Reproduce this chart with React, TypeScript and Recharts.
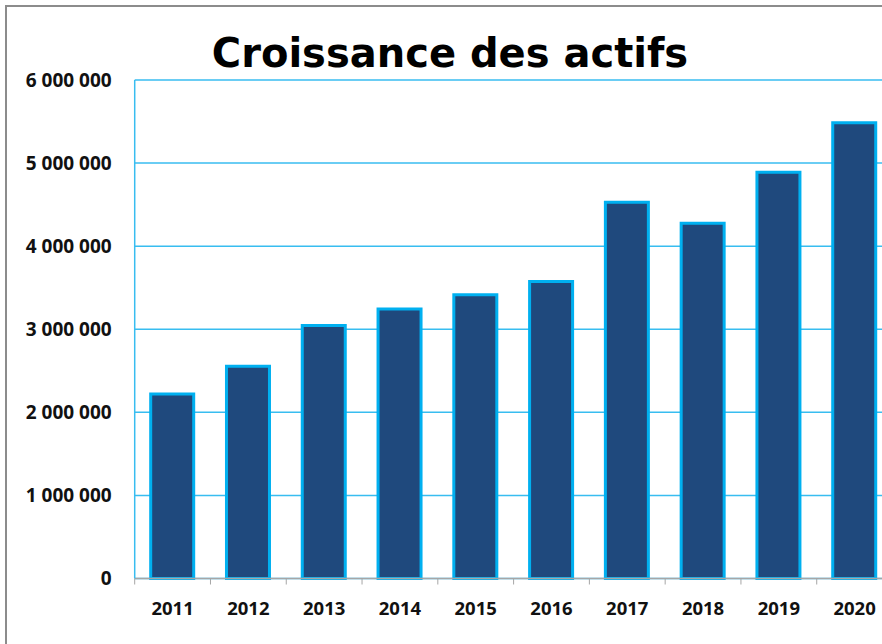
import React from 'react';
import { BarChart, Bar, XAxis, YAxis, CartesianGrid } from 'recharts';

const years = ['2011', '2012', '2013', '2014', '2015', '2016', '2017', '2018', '2019', '2020'];
const actifs = [2220000, 2555000, 3045000, 3245000, 3415000, 3575000, 4530000, 4275000, 4890000, 5485000];
const yTicks = [0, 1000000, 2000000, 3000000, 4000000, 5000000, 6000000];

const data = years.map((annee, i) => ({ annee, actifs: actifs[i] }));

const TITLE_FONT = '"DejaVu Sans", Verdana, sans-serif';
const TICK_FONT = '"Open Sans", "Noto Sans", sans-serif';
const HALF_BAND = 75.8 / 2;

const fmt = (v: number) => String(v).replace(/\B(?=(\d{3})+(?!\d))/g, ' ');

function XTick(props: any) {
  const { x, y, payload } = props;
  const half = payload && payload.offset ? payload.offset : HALF_BAND;
  return (
    <g>
      <line x1={x - half} x2={x - half} y1={y} y2={y + 6} stroke="#a6a6a6" strokeWidth={1} />
      <text x={x} y={y + 36.5} textAnchor="middle" fontFamily={TICK_FONT} fontWeight="bold" fontSize={18.5} fill="#111">
        {payload.value}
      </text>
    </g>
  );
}

export default function App() {
  return (
    <div style={{ position: 'absolute', left: 0, top: 0, width: 882, height: 644, overflow: 'hidden', background: '#fff' }}>
      <div
        style={{
          position: 'absolute',
          left: 5,
          top: 5,
          width: 1000,
          height: 1000,
          border: '2px solid #8c8c8c',
          boxSizing: 'border-box',
        }}
      />
      <div style={{ position: 'absolute', left: 0, top: 0 }}>
        <BarChart width={900} height={640} data={data} margin={{ top: 80, right: 7.5, bottom: 21.5, left: 0 }}>
          <CartesianGrid vertical={false} stroke="#38bdf0" strokeWidth={1.5} />
          <XAxis
            dataKey="annee"
            height={40}
            tickLine={false}
            tickSize={0}
            tickMargin={0}
            axisLine={{ stroke: '#a6a6a6', strokeWidth: 1.5 }}
            tick={<XTick />}
            interval={0}
          />
          <YAxis
            width={134.7}
            domain={[0, 6000000]}
            ticks={yTicks}
            tickFormatter={fmt}
            tickLine={false}
            tickSize={0}
            tickMargin={23}
            axisLine={{ stroke: '#38bdf0', strokeWidth: 1.5 }}
            tick={{ fontFamily: TICK_FONT, fontWeight: 'bold', fontSize: 19, fill: '#111' }}
          />
          <Bar dataKey="actifs" barSize={43} fill="#1f497d" stroke="#00b0f0" strokeWidth={3} isAnimationActive={false} />
        </BarChart>
      </div>
      <svg width={882} height={644} style={{ position: 'absolute', left: 0, top: 0, pointerEvents: 'none' }}>
        <text x={450} y={67} textAnchor="middle" fontFamily={TITLE_FONT} fontWeight="bold" fontSize={40} fill="#000">
          Croissance des actifs
        </text>
      </svg>
    </div>
  );
}
